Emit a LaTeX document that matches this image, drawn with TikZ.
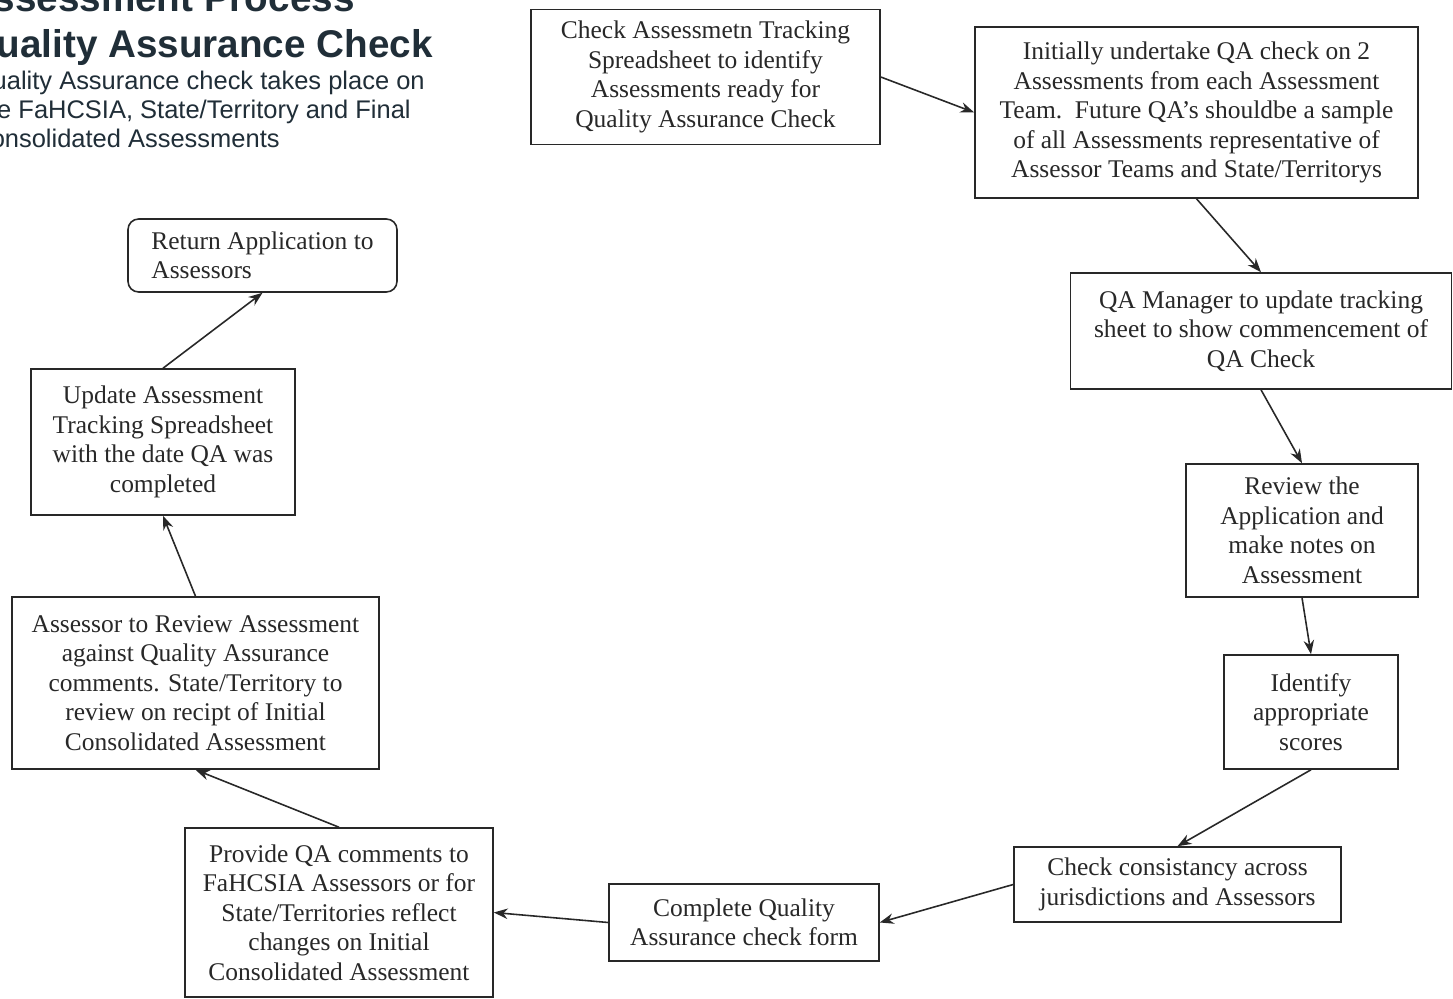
\documentclass[tikz,border=0pt]{standalone}
\usepackage{fontspec}
\setmainfont{Liberation Serif}
\newfontfamily\headfont{Liberation Sans}
\usetikzlibrary{arrows.meta}
\definecolor{inkgray}{RGB}{40,40,40}
\definecolor{headblue}{RGB}{32,46,56}

\begin{document}
\begin{tikzpicture}[x=0.02cm,y=-0.02cm,
  stage/.style={draw=inkgray, line width=0.9pt, align=center, inner sep=0pt,
    text=inkgray, font=\fontsize{14.5}{16.8}\selectfont},
  heading/.style={anchor=base east, inner sep=0pt, text=headblue}]
\def\l{2.8mm}
\def\w{2.1mm}
\useasboundingbox (0,0) rectangle (1453,999);
\clip (0,0) rectangle (1453,999);
\fill[white] (0,0) rectangle (1453,999);
% heading, cut off at the page edge
\node [heading, font=\headfont\bfseries\fontsize{22}{26}\selectfont, name=t1] at (355,12) {Assessment Process};
\node [heading, font=\headfont\bfseries\fontsize{22}{26}\selectfont, name=t2] at (433,58) {Quality Assurance Check};
\node [heading, font=\headfont\fontsize{14.5}{17}\selectfont, name=t3] at (425,90) {Quality Assurance check takes place on};
\node [heading, font=\headfont\fontsize{14.5}{17}\selectfont, name=t4] at (411,119) {the FaHCSIA, State/Territory and Final};
\node [heading, font=\headfont\fontsize{14.5}{17}\selectfont, name=t5] at (280,148) {Consolidated Assessments};
% process steps
\node [stage, minimum width=6.98cm, minimum height=2.70cm, name=q1] at (705.5,77)
  {Check Assessmetn Tracking\\Spreadsheet to identify\\Assessments ready for\\Quality Assurance Check};
\node [stage, minimum width=8.86cm, minimum height=3.42cm, name=q2] at (1196.5,112.5)
  {Initially undertake QA check on 2\\Assessments from each Assessment\\Team.\ \ Future QA’s shouldbe a sample\\of all Assessments representative of\\Assessor Teams and State/Territorys};
\node [stage, minimum width=7.62cm, minimum height=2.32cm, name=q3] at (1261,331)
  {QA Manager to update tracking\\sheet to show commencement of\\QA Check};
\node [stage, minimum width=4.64cm, minimum height=2.66cm, name=q4] at (1302,530.5)
  {Review the\\Application and\\make notes on\\Assessment};
\node [stage, minimum width=3.48cm, minimum height=2.28cm, name=q5] at (1311,712)
  {Identify\\appropriate\\scores};
\node [stage, minimum width=6.54cm, minimum height=1.50cm, name=q6] at (1177.5,884.5)
  {Check consistancy across\\jurisdictions and Assessors};
\node [stage, minimum width=5.40cm, minimum height=1.54cm, name=q7] at (744,922.5)
  {Complete Quality\\Assurance check form};
\node [stage, minimum width=6.16cm, minimum height=3.38cm, name=q8] at (339,912.5)
  {Provide QA comments to\\FaHCSIA Assessors or for\\State/Territories reflect\\changes on Initial\\Consolidated Assessment};
\node [stage, minimum width=7.34cm, minimum height=3.44cm, name=q9] at (195.5,683)
  {Assessor to Review Assessment\\against Quality Assurance\\comments. State/Territory to\\review on recipt of Initial\\Consolidated Assessment};
\node [stage, minimum width=5.28cm, minimum height=2.92cm, name=q10] at (163,442)
  {Update Assessment\\Tracking Spreadsheet\\with the date QA was\\completed};
\node [stage, align=left, rounded corners=6pt, minimum width=5.38cm, minimum height=1.46cm, name=q11] at (262.5,255.5)
  {Return Application to\\Assessors};
\draw [inkgray, line width=0.9pt, -{Stealth[length=\l, width=\w]}](q1.east) -- (q2.west);
\draw [inkgray, line width=0.9pt, -{Stealth[length=\l, width=\w]}](q2.south) -- (q3.north);
\draw [inkgray, line width=0.9pt, -{Stealth[length=\l, width=\w]}](q3.south) -- (q4.north);
\draw [inkgray, line width=0.9pt, -{Stealth[length=\l, width=\w]}](q4.south) -- (q5.north);
\draw [inkgray, line width=0.9pt, -{Stealth[length=\l, width=\w]}](q5.south) -- (q6.north);
\draw [inkgray, line width=0.9pt, -{Stealth[length=\l, width=\w]}](q6.west) -- (q7.east);
\draw [inkgray, line width=0.9pt, -{Stealth[length=\l, width=\w]}](q7.west) -- (q8.east);
\draw [inkgray, line width=0.9pt, -{Stealth[length=\l, width=\w]}](q8.north) -- (q9.south);
\draw [inkgray, line width=0.9pt, -{Stealth[length=\l, width=\w]}](q9.north) -- (q10.south);
\draw [inkgray, line width=0.9pt, -{Stealth[length=\l, width=\w]}](q10.north) -- (q11.south);
\end{tikzpicture}
\end{document}
